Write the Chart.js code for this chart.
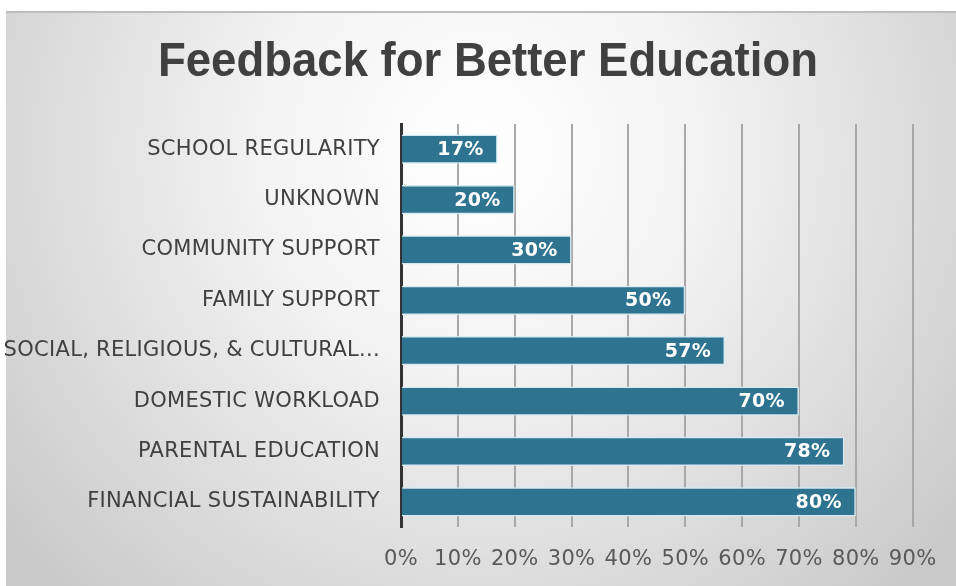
<!DOCTYPE html>
<html>
<head>
<meta charset="utf-8">
<script src="https://cdn.jsdelivr.net/npm/chart.js@4.4.1/dist/chart.umd.min.js"></script>
<style>
  html, body { margin: 0; padding: 0; background: #ffffff; }
  #wrap { width: 956px; height: 586px; position: relative; }
</style>
</head>
<body>
<div id="wrap"><canvas id="chart" width="956" height="586"></canvas></div>
<script>
// Survey feedback categories and share of respondents (%)
const categories = [
  'SCHOOL REGULARITY',
  'UNKNOWN',
  'COMMUNITY SUPPORT',
  'FAMILY SUPPORT',
  'SOCIAL, RELIGIOUS, & CULTURAL...',
  'DOMESTIC WORKLOAD',
  'PARENTAL EDUCATION',
  'FINANCIAL SUSTAINABILITY'
];
const shares = [17, 20, 30, 50, 57, 70, 78, 80];
const tickValues = [0, 10, 20, 30, 40, 50, 60, 70, 80, 90];
const chartTitle = 'Feedback for Better Education';

const labelFont = '"DejaVu Sans", "Open Sans", sans-serif';

// Soft radial backdrop behind the whole panel; slightly tracked label text
const backdrop = {
  id: 'backdrop',
  beforeDraw(chart) {
    const ctx = chart.ctx;
    ctx.save();
    ctx.fillStyle = '#ffffff';
    ctx.fillRect(0, 0, chart.width, chart.height);
    const x0 = 6, y0 = 11, w = chart.width - x0, h = chart.height - y0;
    const g = ctx.createRadialGradient(480, 150, 0, 480, 150, 620);
    g.addColorStop(0, '#ffffff');
    g.addColorStop(0.35, '#f3f3f3');
    g.addColorStop(1, '#c8c8c8');
    ctx.fillStyle = g;
    ctx.fillRect(x0, y0, w, h);
    ctx.fillStyle = '#bdbdbd';
    ctx.fillRect(x0, y0, w, 2);
    ctx.restore();
    if ('letterSpacing' in ctx) ctx.letterSpacing = '0.3px';
  }
};

// Condensed bold heading across the top of the panel
const heading = {
  id: 'heading',
  afterDraw(chart) {
    const ctx = chart.ctx;
    ctx.save();
    if ('letterSpacing' in ctx) ctx.letterSpacing = '0px';
    ctx.font = 'bold 49px "Liberation Sans", Arial, sans-serif';
    ctx.fillStyle = '#404040';
    ctx.textAlign = 'center';
    ctx.textBaseline = 'middle';
    const w = ctx.measureText(chartTitle).width;
    const sx = 660 / w;
    ctx.translate(488, 62);
    ctx.scale(sx, 1);
    ctx.fillText(chartTitle, 0, 0);
    ctx.restore();
    if ('letterSpacing' in ctx) ctx.letterSpacing = '0px';
  }
};

// White value labels drawn inside the end of each bar
const barValues = {
  id: 'barValues',
  afterDatasetsDraw(chart) {
    const ctx = chart.ctx;
    const meta = chart.getDatasetMeta(0);
    ctx.save();
    ctx.font = 'bold 19px ' + labelFont;
    ctx.fillStyle = '#ffffff';
    ctx.textAlign = 'right';
    ctx.textBaseline = 'middle';
    meta.data.forEach((bar, i) => {
      ctx.fillText(chart.data.datasets[0].data[i] + '%', bar.x - 14, bar.y + 1);
    });
    ctx.restore();
  }
};

new Chart(document.getElementById('chart'), {
  type: 'bar',
  data: {
    labels: categories,
    datasets: [{
      data: shares,
      backgroundColor: '#2e7390',
      borderColor: '#d4eaf3',
      borderWidth: 1.5,
      borderSkipped: 'left',
      categoryPercentage: 1,
      barPercentage: 0.58
    }]
  },
  options: {
    indexAxis: 'y',
    responsive: false,
    animation: false,
    events: [],
    layout: { padding: { top: 124, right: 42, bottom: 0, left: 0 } },
    plugins: {
      legend: { display: false },
      tooltip: { enabled: false },
      title: { display: false }
    },
    scales: {
      x: {
        min: 0,
        max: 90,
        afterBuildTicks(scale) {
          scale.ticks = tickValues.map(v => ({ value: v }));
        },
        afterFit(scale) { scale.height = 59; },
        grid: { color: '#a8a8a8', lineWidth: 2, drawTicks: false },
        border: { display: false },
        ticks: {
          color: '#595959',
          padding: 20,
          font: { family: labelFont, size: 21 },
          callback: v => v + '%'
        }
      },
      y: {
        afterFit(scale) { scale.width = 401; },
        grid: { display: false, drawTicks: false },
        border: { display: true, color: '#333333', width: 3 },
        ticks: {
          color: '#404040',
          padding: 21,
          autoSkip: false,
          font: { family: labelFont, size: 21 }
        }
      }
    }
  },
  plugins: [backdrop, barValues, heading]
});
</script>
</body>
</html>
